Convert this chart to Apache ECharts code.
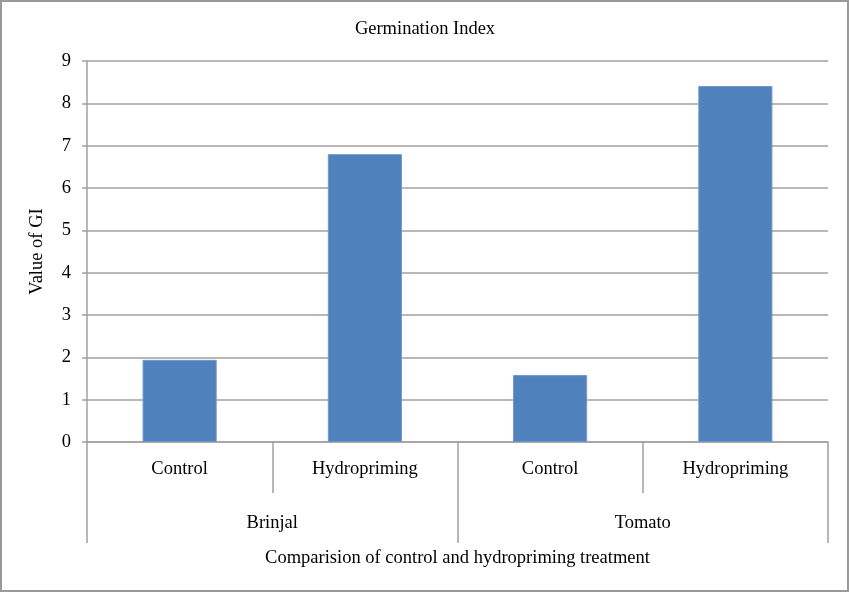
<!DOCTYPE html>
<html>
<head>
<meta charset="utf-8">
<script src="https://cdn.jsdelivr.net/npm/echarts@6/dist/echarts.min.js"></script>
<style>
html,body{margin:0;padding:0;background:#fff;}
#chart{width:850px;height:593px;}
</style>
</head>
<body>
<div id="chart"></div>
<script>
const titleText = 'Germination Index';
const treatments = ['Control', 'Hydropriming', 'Control', 'Hydropriming'];
const crops = ['Brinjal', 'Tomato'];
const giValues = [1.94, 6.80, 1.58, 8.41];
const yTicks = [0, 1, 2, 3, 4, 5, 6, 7, 8, 9];
const yAxisTitle = 'Value of GI';
const xAxisTitle = 'Comparision of control and hydropriming treatment';

const font = 'Liberation Serif';
const fs = 18.5;
const gray = '#a0a0a0';

const chart = echarts.init(document.getElementById('chart'), null, {renderer: 'canvas'});
chart.setOption({
  animation: false,
  backgroundColor: '#fff',
  title: {
    text: titleText,
    left: 'center',
    top: 15,
    textStyle: {fontFamily: font, fontSize: fs, fontWeight: 'normal', color: '#000'}
  },
  graphic: [{
    type: 'rect',
    shape: {x: 1, y: 1, width: 847, height: 590},
    style: {fill: 'none', stroke: '#999', lineWidth: 2},
    silent: true
  }],
  grid: {left: 87, right: 22, top: 61, bottom: 151, containLabel: false},
  xAxis: [{
    type: 'category',
    data: treatments,
    position: 'bottom',
    axisLine: {lineStyle: {color: gray, width: 1.5}},
    axisTick: {show: true, interval: 0, length: 51, lineStyle: {color: gray, width: 1.5}},
    axisLabel: {interval: 0, margin: 18, fontFamily: font, fontSize: fs, color: '#000'}
  }, {
    type: 'category',
    data: crops,
    position: 'bottom',
    axisLine: {show: false},
    axisTick: {show: true, interval: 0, length: 101, lineStyle: {color: gray, width: 1.5}},
    axisLabel: {interval: 0, margin: 72, fontFamily: font, fontSize: fs, color: '#000'},
    name: xAxisTitle,
    nameLocation: 'middle',
    nameGap: 107,
    nameTextStyle: {fontFamily: font, fontSize: fs, color: '#000'}
  }],
  yAxis: {
    type: 'value',
    min: yTicks[0],
    max: yTicks[yTicks.length - 1],
    interval: 1,
    axisLine: {show: true, lineStyle: {color: gray, width: 1.5}},
    axisTick: {show: true, length: 5, lineStyle: {color: gray, width: 1.5}},
    splitLine: {show: true, lineStyle: {color: gray, width: 1.5}},
    axisLabel: {margin: 16, fontFamily: font, fontSize: fs, color: '#000'},
    name: yAxisTitle,
    nameLocation: 'middle',
    nameGap: 40,
    nameRotate: 90,
    nameTextStyle: {fontFamily: font, fontSize: fs, color: '#000'}
  },
  series: [{
    type: 'bar',
    xAxisIndex: 0,
    data: giValues,
    barWidth: '40%',
    itemStyle: {color: '#4f81bd', borderColor: '#6f97cc', borderWidth: 1}
  }]
});
</script>
</body>
</html>
